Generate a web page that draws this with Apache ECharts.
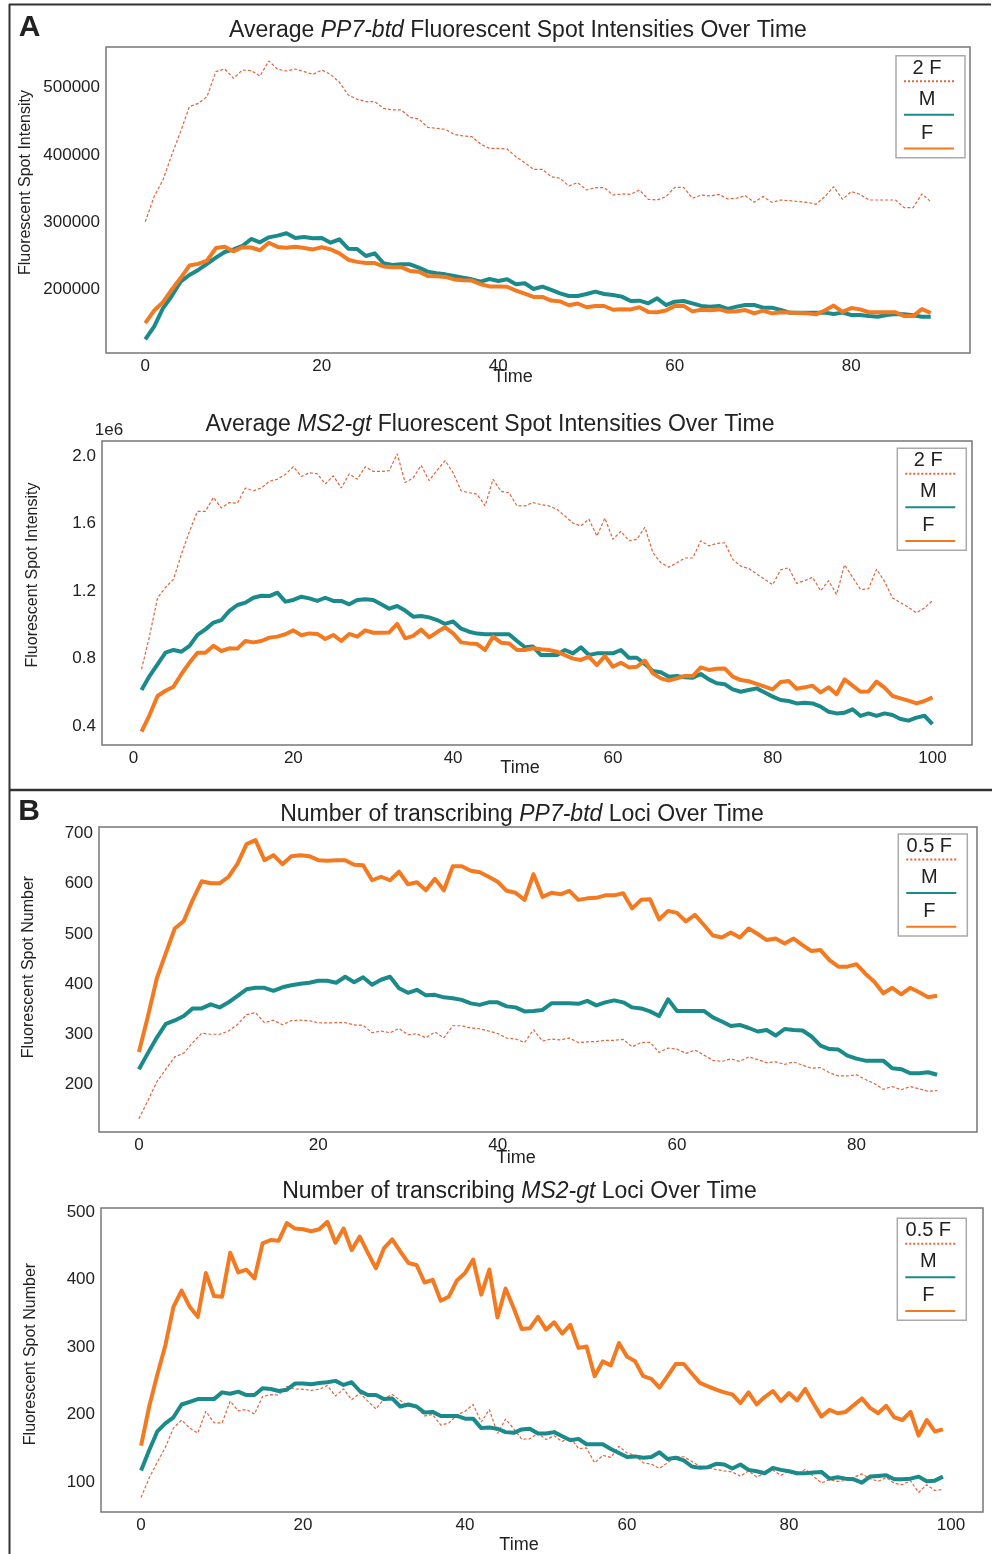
<!DOCTYPE html>
<html>
<head>
<meta charset="utf-8">
<script src="https://cdn.jsdelivr.net/npm/echarts@6/dist/echarts.min.js"></script>
<style>
  html, body { margin: 0; padding: 0; background: #fff; }
  #chart { width: 992px; height: 1554px; }
</style>
</head>
<body>
<div id="chart"></div>
<script>
// A, top: PP7-btd spot intensity, t = 0..89
const pp7IntT0 = 0
const pp7IntM = [
  126300, 145100, 172300, 190600, 211800, 221700, 229200, 238100, 247500, 255900,
  259800, 264800, 275200, 270200, 277600, 280100, 283600, 276600, 278100, 276200,
  276600, 269700, 274700, 260800, 260300, 249900, 253900, 239100, 236600, 237600,
  237600, 232600, 226700, 224200, 222700, 220300, 217800, 215300, 211900, 215800,
  212900, 215300, 207900, 209400, 201000, 204400, 199500, 194500, 190600, 190600,
  193600, 197000, 193600, 192100, 189600, 183200, 183700, 179700, 187100, 177200,
  182200, 183200, 179700, 175800, 174800, 175800, 171300, 174800, 177200, 177200,
  173300, 173300, 169800, 165900, 165900, 165900, 165900, 165900, 163900, 165900,
  162400, 162400, 160900, 159900, 162400, 163900, 163400, 161900, 159900, 159900
]
const pp7IntF = [
  150400, 169000, 181300, 199900, 217200, 235700, 238200, 243200, 261700, 263700,
  256800, 262900, 262500, 258500, 269600, 263400, 262200, 263700, 261700, 259700,
  262900, 259700, 253800, 244400, 241200, 239500, 239500, 234500, 233300, 233300,
  227800, 226600, 220400, 219700, 218900, 215200, 214000, 213500, 208000, 204800,
  204800, 204300, 198600, 194200, 189200, 189200, 183800, 182600, 176900, 179400,
  173900, 175700, 175700, 170200, 171000, 170700, 173900, 167000, 166500, 169000,
  175900, 175900, 167800, 170200, 169500, 170700, 167300, 167800, 169700, 164800,
  169000, 164800, 166500, 166000, 165300, 164800, 163300, 169000, 176400, 167000,
  172700, 170700, 166500, 166500, 166500, 166500, 160800, 160800, 171000, 165300
]

// A, bottom: MS2-gt spot intensity (x 1e6), t = 1..100
const ms2IntT0 = 1
const ms2IntM = [
  0.615, 0.698, 0.767, 0.836, 0.852, 0.842, 0.876, 0.941, 0.974, 1.014,
  1.029, 1.083, 1.118, 1.132, 1.161, 1.173, 1.171, 1.191, 1.138, 1.148,
  1.167, 1.157, 1.142, 1.161, 1.142, 1.142, 1.122, 1.148, 1.152, 1.148,
  1.122, 1.096, 1.112, 1.085, 1.049, 1.053, 1.045, 1.029, 1.006, 1.021,
  0.978, 0.960, 0.949, 0.945, 0.945, 0.945, 0.945, 0.905, 0.868, 0.872,
  0.822, 0.822, 0.822, 0.852, 0.832, 0.868, 0.822, 0.832, 0.832, 0.832,
  0.852, 0.806, 0.806, 0.769, 0.728, 0.720, 0.694, 0.698, 0.690, 0.688,
  0.710, 0.678, 0.655, 0.649, 0.619, 0.605, 0.615, 0.625, 0.600, 0.576,
  0.556, 0.550, 0.536, 0.540, 0.536, 0.517, 0.487, 0.477, 0.481, 0.501,
  0.462, 0.477, 0.462, 0.477, 0.467, 0.444, 0.434, 0.452, 0.463, 0.414
]
const ms2IntF = [
  0.369, 0.467, 0.580, 0.611, 0.635, 0.710, 0.777, 0.836, 0.836, 0.877,
  0.846, 0.862, 0.860, 0.905, 0.897, 0.905, 0.925, 0.931, 0.945, 0.968,
  0.939, 0.950, 0.947, 0.917, 0.941, 0.905, 0.947, 0.931, 0.968, 0.954,
  0.954, 0.956, 1.006, 0.921, 0.935, 0.972, 0.927, 0.958, 0.986, 0.950,
  0.897, 0.891, 0.887, 0.852, 0.931, 0.895, 0.891, 0.852, 0.852, 0.862,
  0.856, 0.852, 0.842, 0.822, 0.801, 0.793, 0.813, 0.763, 0.816, 0.753,
  0.777, 0.749, 0.753, 0.789, 0.714, 0.684, 0.671, 0.684, 0.698, 0.698,
  0.749, 0.734, 0.741, 0.743, 0.694, 0.674, 0.667, 0.651, 0.635, 0.619,
  0.663, 0.669, 0.623, 0.631, 0.641, 0.601, 0.631, 0.590, 0.678, 0.641,
  0.605, 0.607, 0.665, 0.629, 0.580, 0.566, 0.552, 0.536, 0.550, 0.572
]

// B, top: transcribing PP7-btd loci, t = 0..89
const pp7LociT0 = 0
const pp7LociM = [
  231, 263, 294, 321, 328, 337, 352, 352, 360, 354,
  364, 377, 390, 393, 393, 387, 394, 398, 401, 403,
  407, 407, 403, 415, 404, 414, 399, 409, 415, 392,
  383, 389, 378, 379, 374, 372, 369, 362, 359, 364,
  364, 356, 354, 346, 347, 349, 362, 362, 362, 361,
  367, 358, 364, 368, 364, 354, 352, 346, 337, 370,
  347, 347, 347, 347, 334, 326, 317, 319, 313, 306,
  309, 298, 311, 309, 308, 296, 278, 271, 270, 258,
  252, 248, 248, 248, 233, 231, 223, 223, 225, 220
]
const pp7LociF = [
  265, 336, 412, 462, 511, 526, 568, 605, 601, 601,
  614, 640, 679, 687, 647, 657, 639, 655, 657, 655,
  647, 646, 647, 647, 638, 637, 607, 614, 607, 624,
  599, 603, 587, 610, 587, 635, 635, 626, 623, 614,
  604, 586, 582, 568, 619, 574, 582, 579, 586, 568,
  571, 572, 577, 577, 581, 551, 568, 569, 529, 546,
  542, 525, 538, 518, 497, 493, 503, 493, 511, 500,
  488, 491, 481, 491, 478, 466, 468, 448, 435, 435,
  440, 421, 405, 382, 393, 380, 393, 384, 374, 377
]

// B, bottom: transcribing MS2-gt loci, t = 0..99
const ms2LociT0 = 0
const ms2LociM = [
  117, 147, 175, 187, 196, 215, 219, 223, 223, 223,
  233, 231, 234, 229, 229, 239, 238, 235, 237, 246,
  246, 245, 247, 248, 250, 244, 248, 235, 229, 229,
  223, 224, 212, 215, 212, 203, 204, 198, 198, 198,
  194, 194, 180, 181, 179, 174, 173, 178, 179, 172,
  172, 174, 168, 162, 164, 156, 156, 156, 149, 143,
  137, 138, 136, 137, 144, 134, 136, 132, 123, 121,
  122, 127, 126, 120, 126, 118, 116, 113, 121, 118,
  116, 113, 113, 114, 115, 105, 107, 105, 104, 99,
  108, 109, 110, 104, 104, 105, 108, 101, 102, 108
]
const ms2LociF = [
  154, 212, 259, 303, 360, 384, 360, 345, 410, 376,
  375, 440, 411, 415, 402, 454, 459, 458, 484, 476,
  475, 472, 475, 486, 455, 476, 444, 464, 440, 417,
  447, 460, 442, 425, 422, 396, 400, 369, 375, 399,
  410, 430, 378, 415, 344, 387, 358, 327, 328, 345,
  326, 337, 320, 333, 299, 301, 257, 279, 273, 306,
  286, 279, 257, 253, 240, 257, 275, 275, 261, 247,
  242, 237, 233, 230, 217, 233, 215, 226, 235, 220,
  232, 221, 238, 217, 197, 207, 202, 204, 214, 224,
  210, 202, 213, 196, 192, 204, 169, 192, 175, 178
]

// tick labels
const pp7IntYTicks = [200000, 300000, 400000, 500000]
const ms2IntYTicks = [0.4, 0.8, 1.2, 1.6, 2.0]
const pp7LociYTicks = [200, 300, 400, 500, 600, 700]
const ms2LociYTicks = [100, 200, 300, 400, 500]
const xTicks80 = [0, 20, 40, 60, 80]
const xTicks100 = [0, 20, 40, 60, 80, 100]

// the dashed reference curve is F scaled by the factor named in the legend
const scaleBy = (arr, k) => arr.map(v => v * k)
const pairs = (t0, arr) => arr.map((v, i) => [t0 + i, v])

const FONT = '"Liberation Sans", Arial, sans-serif'
const TEAL = '#1b8a8a'
const ORANGE = '#f47a22'
const DASH = '#e2643a'
const TXT = '#222'

const panels = [
  {
    grid: {left: 106, top: 47, width: 864, height: 306},
    x: [-4.45, 93.45], xTicks: xTicks80, y: [106000, 560000], yTicks: pp7IntYTicks,
    fmt: v => String(v),
    t0: pp7IntT0, m: pp7IntM, f: pp7IntF, k: 2, kLabel: '2 F',
    title: ['Average ', 'PP7-btd', ' Fluorescent Spot Intensities Over Time'], titleX: 518, titleY: 19,
    yName: 'Fluorescent Spot Intensity', yNamePos: [25.5, 182.5], timePos: [513, 377],
    legend: [896, 55.7]
  },
  {
    grid: {left: 102, top: 441, width: 870, height: 304},
    x: [-3.95, 104.95], xTicks: xTicks100, y: [0.29, 2.088], yTicks: ms2IntYTicks,
    fmt: v => v.toFixed(1),
    t0: ms2IntT0, m: ms2IntM, f: ms2IntF, k: 2, kLabel: '2 F',
    title: ['Average ', 'MS2-gt', ' Fluorescent Spot Intensities Over Time'], titleX: 490, titleY: 413,
    yName: 'Fluorescent Spot Intensity', yNamePos: [33, 575], timePos: [520, 768],
    legend: [897.3, 448.3]
  },
  {
    grid: {left: 99, top: 827, width: 878, height: 305},
    x: [-4.45, 93.45], xTicks: xTicks80, y: [106, 713], yTicks: pp7LociYTicks,
    fmt: v => String(v),
    t0: pp7LociT0, m: pp7LociM, f: pp7LociF, k: 0.5, kLabel: '0.5 F',
    title: ['Number of transcribing ', 'PP7-btd', ' Loci Over Time'], titleX: 522, titleY: 803,
    yName: 'Fluorescent Spot Number', yNamePos: [29, 967], timePos: [516, 1158],
    legend: [898.3, 834]
  },
  {
    grid: {left: 101, top: 1208, width: 882, height: 304},
    x: [-4.95, 103.95], xTicks: xTicks100, y: [55.5, 506.5], yTicks: ms2LociYTicks,
    fmt: v => String(v),
    t0: ms2LociT0, m: ms2LociM, f: ms2LociF, k: 0.5, kLabel: '0.5 F',
    title: ['Number of transcribing ', 'MS2-gt', ' Loci Over Time'], titleX: 519.5, titleY: 1180,
    yName: 'Fluorescent Spot Number', yNamePos: [31, 1354], timePos: [519, 1545],
    legend: [897.3, 1218.3]
  }
]

function legendBox (x, y, label) {
  const txt = (ty, s) => ({
    type: 'text', x: 31, y: ty,
    style: {text: s, font: '20px ' + FONT, fill: TXT, textAlign: 'center', textVerticalAlign: 'middle'}
  })
  const line = (ly, color, dash) => ({
    type: 'line', shape: {x1: 8, y1: ly, x2: 58, y2: ly},
    style: {stroke: color, lineWidth: 2, lineDash: dash || null}
  })
  return {
    type: 'group', x: x, y: y, z: 100,
    children: [
      {type: 'rect', shape: {x: 0, y: 0, width: 69, height: 102}, style: {fill: '#fff', stroke: '#aaa', lineWidth: 1.5}},
      txt(12.5, label), line(25.5, DASH, [2, 2]),
      txt(43.6, 'M'), line(59, TEAL),
      txt(77.6, 'F'), line(92.7, ORANGE)
    ]
  }
}

const lineEl = (x1, y1, x2, y2, w) => ({
  type: 'line', shape: {x1, y1, x2, y2}, style: {stroke: '#333', lineWidth: w}
})
const plainText = (x, y, s, size, extra) => ({
  type: 'text', x, y, ...(extra || {}),
  style: {text: s, font: size + 'px ' + FONT, fill: TXT, textAlign: 'center', textVerticalAlign: 'middle'}
})

const graphics = [
  lineEl(9, 4.5, 991, 4.5, 2),
  lineEl(9.5, 4, 9.5, 1554, 2),
  lineEl(9, 790, 992, 790, 2.5),
  {type: 'text', x: 29.5, y: 28, style: {text: 'A', font: 'bold 30px ' + FONT, fill: '#222', textAlign: 'center', textVerticalAlign: 'middle'}},
  {type: 'text', x: 29, y: 811.5, style: {text: 'B', font: 'bold 30px ' + FONT, fill: '#222', textAlign: 'center', textVerticalAlign: 'middle'}},
  plainText(109, 430, '1e6', 17)
]
panels.forEach(p => {
  graphics.push(plainText(p.yNamePos[0], p.yNamePos[1], p.yName, 16, {rotation: Math.PI / 2}))
  graphics.push(plainText(p.timePos[0], p.timePos[1], 'Time', 18))
  graphics.push(legendBox(p.legend[0], p.legend[1], p.kLabel))
})

const baseText = {fontFamily: FONT, fontSize: 23, color: TXT}
const option = {
  animation: false,
  backgroundColor: '#fff',
  title: panels.map(p => ({
    text: '{n|' + p.title[0] + '}{i|' + p.title[1] + '}{n|' + p.title[2] + '}',
    left: p.titleX, top: p.titleY, textAlign: 'center', padding: 0,
    textStyle: {
      ...baseText, fontWeight: 'normal',
      rich: {n: {...baseText}, i: {...baseText, fontStyle: 'italic'}}
    }
  })),
  grid: panels.map(p => ({
    ...p.grid, show: true, borderColor: '#777', borderWidth: 1.5, backgroundColor: '#fff',
    containLabel: false, outerBoundsMode: 'none'
  })),
  xAxis: panels.map((p, i) => ({
    type: 'value', gridIndex: i, min: p.x[0], max: p.x[1],
    axisLine: {show: false}, axisTick: {show: false}, splitLine: {show: false},
    axisLabel: {customValues: p.xTicks, color: TXT, fontFamily: FONT, fontSize: 17, margin: 5}
  })),
  yAxis: panels.map((p, i) => ({
    type: 'value', gridIndex: i, min: p.y[0], max: p.y[1],
    axisLine: {show: false}, axisTick: {show: false}, splitLine: {show: false},
    axisLabel: {customValues: p.yTicks, formatter: p.fmt, color: TXT, fontFamily: FONT, fontSize: 17, margin: 6}
  })),
  series: [],
  graphic: graphics
}

panels.forEach((p, i) => {
  option.series.push({
    name: p.kLabel, type: 'line', xAxisIndex: i, yAxisIndex: i, showSymbol: false, symbol: 'none',
    data: pairs(p.t0, scaleBy(p.f, p.k)),
    lineStyle: {color: DASH, width: 1.2, type: [3, 2]}, z: 2
  })
  option.series.push({
    name: 'M', type: 'line', xAxisIndex: i, yAxisIndex: i, showSymbol: false, symbol: 'none',
    data: pairs(p.t0, p.m),
    lineStyle: {color: TEAL, width: 4, join: 'round'}, z: 3
  })
  option.series.push({
    name: 'F', type: 'line', xAxisIndex: i, yAxisIndex: i, showSymbol: false, symbol: 'none',
    data: pairs(p.t0, p.f),
    lineStyle: {color: ORANGE, width: 4, join: 'round'}, z: 4
  })
})

const chart = echarts.init(document.getElementById('chart'))
chart.setOption(option)
</script>
</body>
</html>
